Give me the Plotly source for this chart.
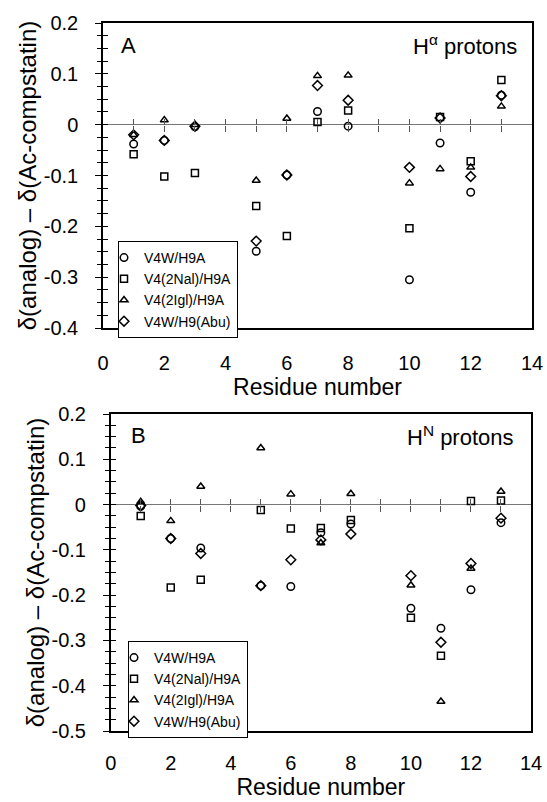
import plotly.graph_objects as go

# ---------------- data ----------------
residues = [1, 2, 3, 5, 6, 7, 8, 10, 11, 12, 13]
series_names = ["V4W/H9A", "V4(2Nal)/H9A", "V4(2Igl)/H9A", "V4W/H9(Abu)"]

# Panel A: H-alpha protons
a_v4w_h9a   = [-0.038, -0.031, -0.004, -0.249, -0.099, 0.026, -0.003, -0.305, -0.036, -0.133, 0.058]
a_v4nal_h9a = [-0.058, -0.102, -0.095, -0.160, -0.219, 0.005, 0.028, -0.204, 0.015, -0.072, 0.088]
a_v4igl_h9a = [-0.020, 0.009, 0.000, -0.110, 0.012, 0.096, 0.097, -0.115, -0.087, -0.084, 0.036]
a_v4w_h9abu = [-0.020, -0.031, -0.003, -0.229, -0.099, 0.077, 0.048, -0.084, 0.013, -0.102, 0.057]

# Panel B: H-N protons
b_v4w_h9a   = [-0.004, -0.075, -0.096, -0.179, -0.181, -0.062, -0.043, -0.229, -0.273, -0.188, -0.040]
b_v4nal_h9a = [-0.025, -0.183, -0.166, -0.012, -0.053, -0.052, -0.034, -0.250, -0.334, 0.008, 0.009]
b_v4igl_h9a = [0.006, -0.036, 0.040, 0.125, 0.023, -0.085, 0.024, -0.178, -0.435, -0.141, 0.029]
b_v4w_h9abu = [-0.002, -0.075, -0.108, -0.179, -0.122, -0.078, -0.065, -0.157, -0.304, -0.130, -0.030]

x_tickvals = [0, 2, 4, 6, 8, 10, 12, 14]
x_ticktext = ["0", "2", "4", "6", "8", "10", "12", "14"]
zero_tickvals = [1, 2, 3, 4, 5, 6, 7, 8, 9, 10, 11, 12, 13]
a_tickvals = [0.2, 0.1, 0.0, -0.1, -0.2, -0.3, -0.4]
a_ticktext = ["0.2", "0.1", "0", "-0.1", "-0.2", "-0.3", "-0.4"]
b_tickvals = [0.2, 0.1, 0.0, -0.1, -0.2, -0.3, -0.4, -0.5]
b_ticktext = ["0.2", "0.1", "0", "-0.1", "-0.2", "-0.3", "-0.4", "-0.5"]

# ---------------- style ----------------
FONT = "Liberation Sans, Arial, sans-serif"
W, H = 547, 802
symbols = ["circle-open", "square-open", "triangle-up-open", "diamond-open"]
sizes = [7.5, 7, 7, 7.5]

xdomA = [103 / W, 532 / W]
ydomA = [1 - 328 / H, 1 - 23 / H]
xdomB = [110.7 / W, 531 / W]
ydomB = [1 - 731 / H, 1 - 414 / H]
rangeA = [-0.4, 0.2]
rangeB = [-0.5, 0.2]


def zero_pos(dom, rng):
    return dom[0] + (0 - rng[0]) / (rng[1] - rng[0]) * (dom[1] - dom[0])


fig = go.Figure()

panelA = [a_v4w_h9a, a_v4nal_h9a, a_v4igl_h9a, a_v4w_h9abu]
panelB = [b_v4w_h9a, b_v4nal_h9a, b_v4igl_h9a, b_v4w_h9abu]

for i, (name, vals) in enumerate(zip(series_names, panelA)):
    fig.add_trace(go.Scatter(
        x=residues, y=vals, mode="markers", name=name,
        xaxis="x", yaxis="y", legend="legend",
        marker=dict(symbol=symbols[i], size=sizes[i], color="black",
                    line=dict(width=1.5, color="black")),
    ))
for i, (name, vals) in enumerate(zip(series_names, panelB)):
    fig.add_trace(go.Scatter(
        x=residues, y=vals, mode="markers", name=name,
        xaxis="x2", yaxis="y2", legend="legend2",
        marker=dict(symbol=symbols[i], size=sizes[i], color="black",
                    line=dict(width=1.5, color="black")),
    ))

# empty traces to activate overlay axes
for xa, ya in [("x3", "y"), ("x4", "y"), ("x", "y3"), ("x", "y5"),
               ("x5", "y2"), ("x6", "y2"), ("x2", "y4"), ("x2", "y6")]:
    fig.add_trace(go.Scatter(x=[], y=[], xaxis=xa, yaxis=ya, showlegend=False,
                             hoverinfo="skip"))

tickfont = dict(family=FONT, size=20, color="black")
xtitlefont = dict(family=FONT, size=23, color="black")
ytitlefont = dict(family=FONT, size=24, color="black")


def main_x(dom, anchor, gap):
    return dict(domain=dom, range=[0, 14], anchor=anchor, showline=True, mirror=True,
                linecolor="black", linewidth=1.5, showgrid=False, zeroline=False,
                tickmode="array", tickvals=x_tickvals, ticktext=x_ticktext,
                ticks="outside", ticklen=gap, tickcolor="rgba(0,0,0,0)",
                tickfont=tickfont,
                title=dict(text="Residue number", font=xtitlefont, standoff=0))


def main_y(dom, rng, anchor, tv, tt):
    return dict(domain=dom, range=rng, anchor=anchor, showline=True, mirror=True,
                linecolor="black", linewidth=1.5, showgrid=False,
                zeroline=True, zerolinecolor="#777777", zerolinewidth=1,
                tickmode="array", tickvals=tv, ticktext=tt,
                ticks="outside", ticklen=19, tickcolor="rgba(0,0,0,0)",
                tickfont=tickfont,
                title=dict(text="δ(analog) – δ(Ac-compstatin)", font=ytitlefont, standoff=0))


def tick_y(over, rng, anchor, side_ticks, major_len):
    return dict(overlaying=over, range=rng, anchor=anchor, side="left", showline=False,
                showgrid=False, zeroline=False, showticklabels=False,
                tickmode="linear", tick0=0, dtick=0.1,
                ticks=side_ticks, ticklen=major_len, tickwidth=1, tickcolor="black",
                minor=dict(tickmode="linear", tick0=0, dtick=0.025, ticks=side_ticks,
                           ticklen=5, tickwidth=1, tickcolor="black"))


def zero_x(over, pos, side):
    return dict(overlaying=over, range=[0, 14], anchor="free", position=pos, side=side,
                showline=False, showgrid=False, zeroline=False, showticklabels=False,
                tickmode="array", tickvals=zero_tickvals, ticks="outside", ticklen=6,
                tickwidth=1, tickcolor="#555555")


zA = zero_pos(ydomA, rangeA)
zB = zero_pos(ydomB, rangeB)

legend_common = dict(bgcolor="white", bordercolor="black", borderwidth=1,
                     font=dict(family=FONT, size=14, color="black"),
                     itemwidth=30, indentation=-15, tracegroupgap=0,
                     xanchor="left", yanchor="top")

ann_font = dict(family=FONT, size=22, color="black")

fig.update_layout(
    width=W, height=H, template="none",
    margin=dict(l=0, r=0, t=0, b=0),
    paper_bgcolor="white", plot_bgcolor="white",
    font=dict(family=FONT, color="black"),
    xaxis=main_x(xdomA, "y", 16),
    yaxis=main_y(ydomA, rangeA, "x", a_tickvals, a_ticktext),
    xaxis2=main_x(xdomB, "y2", 13),
    yaxis2=main_y(ydomB, rangeB, "x2", b_tickvals, b_ticktext),
    yaxis3=tick_y("y", rangeA, "x", "outside", 7),
    yaxis5=tick_y("y", rangeA, "x", "inside", 5),
    yaxis4=tick_y("y2", rangeB, "x2", "outside", 7),
    yaxis6=tick_y("y2", rangeB, "x2", "inside", 5),
    xaxis3=zero_x("x", zA, "bottom"),
    xaxis4=zero_x("x", zA, "top"),
    xaxis5=zero_x("x2", zB, "bottom"),
    xaxis6=zero_x("x2", zB, "top"),
    legend=dict(x=118 / W, y=1 - 241 / H, **legend_common),
    legend2=dict(x=128 / W, y=1 - 641 / H, **legend_common),
    showlegend=True,
    annotations=[
        dict(text="A", x=128 / W, y=1 - 45 / H, xref="paper", yref="paper",
             xanchor="center", yanchor="middle", showarrow=False, font=ann_font),
        dict(text="H<sup>α</sup> protons", x=519 / W, y=1 - 45 / H, xref="paper",
             yref="paper", xanchor="right", yanchor="middle", showarrow=False,
             font=ann_font),
        dict(text="B", x=138 / W, y=1 - 435 / H, xref="paper", yref="paper",
             xanchor="center", yanchor="middle", showarrow=False, font=ann_font),
        dict(text="H<sup>N</sup> protons", x=516 / W, y=1 - 436 / H, xref="paper",
             yref="paper", xanchor="right", yanchor="middle", showarrow=False,
             font=ann_font),
    ],
)

fig.write_html("out.html")
